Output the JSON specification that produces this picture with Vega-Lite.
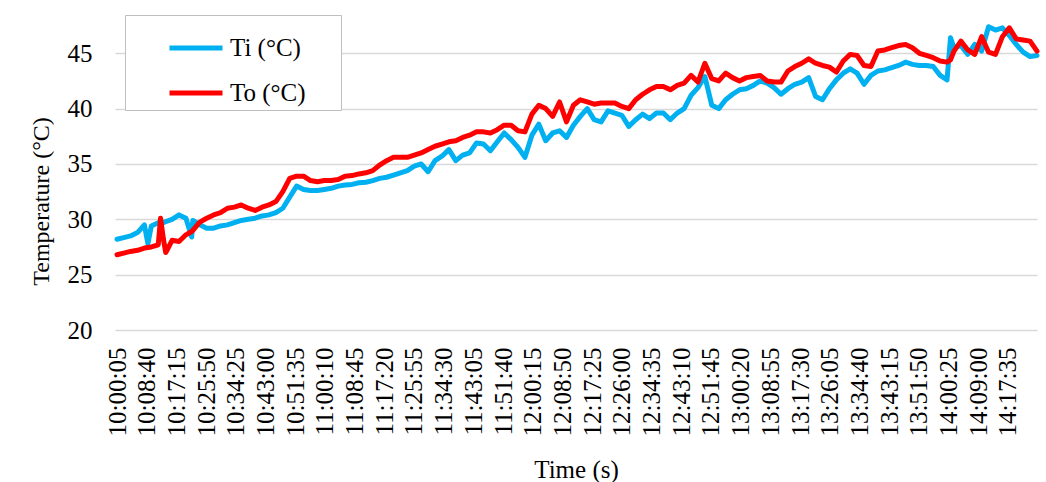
{
  "$schema": "https://vega.github.io/schema/vega-lite/v6.json",
  "width": 922,
  "height": 321,
  "autosize": {"type": "none"},
  "padding": {"left": 115, "top": 9, "right": 9, "bottom": 152},
  "background": "white",
  "config": {
    "font": "Liberation Serif",
    "view": {"stroke": null}
  },
  "data": {
    "format": {"parse": {"t": "date:'%H:%M:%S'"}},
    "values": [
      {"t":"10:00:05","Ti":28.2,"To":26.8},
      {"t":"10:02:00","Ti":28.35,"To":26.95},
      {"t":"10:04:00","Ti":28.5,"To":27.1},
      {"t":"10:06:00","Ti":28.8,"To":27.2},
      {"t":"10:08:00","Ti":29.5,"To":27.4},
      {"t":"10:09:00","Ti":27.8,"To":27.45},
      {"t":"10:10:00","Ti":29.4,"To":27.5},
      {"t":"10:12:00","Ti":29.7,"To":27.7},
      {"t":"10:12:40","Ti":29.6,"To":30.1},
      {"t":"10:13:30","Ti":29.7,"To":28.2},
      {"t":"10:14:10","Ti":29.8,"To":27.0},
      {"t":"10:16:00","Ti":30.0,"To":28.1},
      {"t":"10:18:00","Ti":30.4,"To":28.0},
      {"t":"10:20:00","Ti":30.1,"To":28.6},
      {"t":"10:21:40","Ti":28.4,"To":28.9},
      {"t":"10:22:00","Ti":29.9,"To":29.0},
      {"t":"10:24:00","Ti":29.5,"To":29.75},
      {"t":"10:26:00","Ti":29.2,"To":30.1},
      {"t":"10:28:00","Ti":29.2,"To":30.4},
      {"t":"10:30:00","Ti":29.4,"To":30.6},
      {"t":"10:32:00","Ti":29.5,"To":31.0},
      {"t":"10:34:00","Ti":29.7,"To":31.1},
      {"t":"10:36:00","Ti":29.9,"To":31.3},
      {"t":"10:38:00","Ti":30.0,"To":31.0},
      {"t":"10:40:00","Ti":30.1,"To":30.8},
      {"t":"10:42:00","Ti":30.3,"To":31.1},
      {"t":"10:44:00","Ti":30.4,"To":31.3},
      {"t":"10:46:00","Ti":30.6,"To":31.6},
      {"t":"10:48:00","Ti":31.0,"To":32.5},
      {"t":"10:50:00","Ti":32.0,"To":33.7},
      {"t":"10:52:00","Ti":33.0,"To":33.9},
      {"t":"10:54:00","Ti":32.7,"To":33.9},
      {"t":"10:56:00","Ti":32.6,"To":33.5},
      {"t":"10:58:00","Ti":32.6,"To":33.4},
      {"t":"11:00:00","Ti":32.7,"To":33.5},
      {"t":"11:02:00","Ti":32.8,"To":33.5},
      {"t":"11:04:00","Ti":33.0,"To":33.6},
      {"t":"11:06:00","Ti":33.1,"To":33.9},
      {"t":"11:08:00","Ti":33.15,"To":33.95},
      {"t":"11:10:00","Ti":33.3,"To":34.1},
      {"t":"11:12:00","Ti":33.35,"To":34.2},
      {"t":"11:14:00","Ti":33.5,"To":34.4},
      {"t":"11:16:00","Ti":33.7,"To":34.9},
      {"t":"11:18:00","Ti":33.8,"To":35.3},
      {"t":"11:20:00","Ti":34.0,"To":35.6},
      {"t":"11:22:00","Ti":34.2,"To":35.6},
      {"t":"11:24:00","Ti":34.4,"To":35.6},
      {"t":"11:26:00","Ti":34.8,"To":35.8},
      {"t":"11:28:00","Ti":35.0,"To":36.0},
      {"t":"11:30:00","Ti":34.3,"To":36.3},
      {"t":"11:32:00","Ti":35.3,"To":36.6},
      {"t":"11:34:00","Ti":35.7,"To":36.8},
      {"t":"11:36:00","Ti":36.3,"To":37.0},
      {"t":"11:38:00","Ti":35.3,"To":37.1},
      {"t":"11:40:00","Ti":35.8,"To":37.4},
      {"t":"11:42:00","Ti":36.0,"To":37.6},
      {"t":"11:44:00","Ti":36.9,"To":37.9},
      {"t":"11:46:00","Ti":36.8,"To":37.9},
      {"t":"11:48:00","Ti":36.2,"To":37.8},
      {"t":"11:50:00","Ti":37.0,"To":38.1},
      {"t":"11:52:00","Ti":37.8,"To":38.5},
      {"t":"11:54:00","Ti":37.2,"To":38.5},
      {"t":"11:56:00","Ti":36.5,"To":38.0},
      {"t":"11:58:00","Ti":35.6,"To":37.9},
      {"t":"12:00:00","Ti":37.6,"To":39.5},
      {"t":"12:02:00","Ti":38.6,"To":40.3},
      {"t":"12:04:00","Ti":37.1,"To":40.0},
      {"t":"12:06:00","Ti":37.8,"To":39.3},
      {"t":"12:08:00","Ti":38.0,"To":40.6},
      {"t":"12:10:00","Ti":37.4,"To":38.8},
      {"t":"12:12:00","Ti":38.5,"To":40.3},
      {"t":"12:14:00","Ti":39.3,"To":40.8},
      {"t":"12:16:00","Ti":40.0,"To":40.6},
      {"t":"12:18:00","Ti":39.0,"To":40.4},
      {"t":"12:20:00","Ti":38.8,"To":40.5},
      {"t":"12:22:00","Ti":39.8,"To":40.5},
      {"t":"12:24:00","Ti":39.6,"To":40.5},
      {"t":"12:26:00","Ti":39.4,"To":40.2},
      {"t":"12:28:00","Ti":38.4,"To":40.0},
      {"t":"12:30:00","Ti":39.0,"To":40.8},
      {"t":"12:32:00","Ti":39.5,"To":41.3},
      {"t":"12:34:00","Ti":39.1,"To":41.7},
      {"t":"12:36:00","Ti":39.6,"To":42.0},
      {"t":"12:38:00","Ti":39.6,"To":42.0},
      {"t":"12:40:00","Ti":39.0,"To":41.7},
      {"t":"12:42:00","Ti":39.6,"To":42.1},
      {"t":"12:44:00","Ti":40.0,"To":42.3},
      {"t":"12:46:00","Ti":41.2,"To":43.0},
      {"t":"12:48:00","Ti":41.9,"To":42.4},
      {"t":"12:50:00","Ti":42.9,"To":44.1},
      {"t":"12:52:00","Ti":40.3,"To":42.7},
      {"t":"12:54:00","Ti":40.0,"To":42.5},
      {"t":"12:56:00","Ti":40.8,"To":43.2},
      {"t":"12:58:00","Ti":41.3,"To":42.8},
      {"t":"13:00:00","Ti":41.7,"To":42.5},
      {"t":"13:02:00","Ti":41.8,"To":42.8},
      {"t":"13:04:00","Ti":42.1,"To":42.9},
      {"t":"13:06:00","Ti":42.5,"To":43.0},
      {"t":"13:08:00","Ti":42.3,"To":42.5},
      {"t":"13:10:00","Ti":41.9,"To":42.4},
      {"t":"13:12:00","Ti":41.3,"To":42.4},
      {"t":"13:14:00","Ti":41.8,"To":43.4},
      {"t":"13:16:00","Ti":42.2,"To":43.8},
      {"t":"13:18:00","Ti":42.4,"To":44.1},
      {"t":"13:20:00","Ti":42.8,"To":44.5},
      {"t":"13:22:00","Ti":41.1,"To":44.1},
      {"t":"13:24:00","Ti":40.8,"To":43.9},
      {"t":"13:26:00","Ti":41.8,"To":43.75},
      {"t":"13:28:00","Ti":42.6,"To":43.3},
      {"t":"13:30:00","Ti":43.2,"To":44.3},
      {"t":"13:32:00","Ti":43.6,"To":44.9},
      {"t":"13:34:00","Ti":43.2,"To":44.8},
      {"t":"13:36:00","Ti":42.2,"To":43.9},
      {"t":"13:38:00","Ti":43.0,"To":43.8},
      {"t":"13:40:00","Ti":43.4,"To":45.2},
      {"t":"13:42:00","Ti":43.5,"To":45.3},
      {"t":"13:44:00","Ti":43.7,"To":45.5},
      {"t":"13:46:00","Ti":43.9,"To":45.7},
      {"t":"13:48:00","Ti":44.2,"To":45.8},
      {"t":"13:50:00","Ti":44.0,"To":45.5},
      {"t":"13:52:00","Ti":43.9,"To":45.0},
      {"t":"13:54:00","Ti":43.9,"To":44.8},
      {"t":"13:56:00","Ti":43.8,"To":44.6},
      {"t":"13:58:00","Ti":43.0,"To":44.3},
      {"t":"14:00:00","Ti":42.6,"To":44.2},
      {"t":"14:01:00","Ti":46.4,"To":44.4},
      {"t":"14:02:00","Ti":45.5,"To":45.2},
      {"t":"14:04:00","Ti":45.7,"To":46.1},
      {"t":"14:06:00","Ti":44.9,"To":45.3},
      {"t":"14:08:00","Ti":45.8,"To":44.9},
      {"t":"14:10:00","Ti":45.2,"To":46.5},
      {"t":"14:12:00","Ti":47.4,"To":45.1},
      {"t":"14:14:00","Ti":47.1,"To":44.9},
      {"t":"14:16:00","Ti":47.3,"To":46.5},
      {"t":"14:18:00","Ti":46.6,"To":47.3},
      {"t":"14:20:00","Ti":45.8,"To":46.3},
      {"t":"14:22:00","Ti":45.1,"To":46.2},
      {"t":"14:24:00","Ti":44.7,"To":46.1},
      {"t":"14:26:00","Ti":44.8,"To":45.2}
    ]
  },
  "transform": [{"fold": ["Ti", "To"], "as": ["s", "v"]}],
  "mark": {"type": "line", "strokeWidth": 5, "strokeJoin": "round", "strokeCap": "round"},
  "encoding": {
    "x": {
      "field": "t",
      "type": "temporal",
      "scale": {
        "domain": [
          {"year": 1900, "month": 1, "date": 1, "hours": 9, "minutes": 59, "seconds": 30},
          {"year": 1900, "month": 1, "date": 1, "hours": 14, "minutes": 26, "seconds": 0}
        ]
      },
      "axis": {
        "title": "Time (s)",
        "format": "%H:%M:%S",
        "values": [
          {"year":1900,"month":1,"date":1,"hours":10,"minutes":0,"seconds":5},
          {"year":1900,"month":1,"date":1,"hours":10,"minutes":8,"seconds":40},
          {"year":1900,"month":1,"date":1,"hours":10,"minutes":17,"seconds":15},
          {"year":1900,"month":1,"date":1,"hours":10,"minutes":25,"seconds":50},
          {"year":1900,"month":1,"date":1,"hours":10,"minutes":34,"seconds":25},
          {"year":1900,"month":1,"date":1,"hours":10,"minutes":43,"seconds":0},
          {"year":1900,"month":1,"date":1,"hours":10,"minutes":51,"seconds":35},
          {"year":1900,"month":1,"date":1,"hours":11,"minutes":0,"seconds":10},
          {"year":1900,"month":1,"date":1,"hours":11,"minutes":8,"seconds":45},
          {"year":1900,"month":1,"date":1,"hours":11,"minutes":17,"seconds":20},
          {"year":1900,"month":1,"date":1,"hours":11,"minutes":25,"seconds":55},
          {"year":1900,"month":1,"date":1,"hours":11,"minutes":34,"seconds":30},
          {"year":1900,"month":1,"date":1,"hours":11,"minutes":43,"seconds":5},
          {"year":1900,"month":1,"date":1,"hours":11,"minutes":51,"seconds":40},
          {"year":1900,"month":1,"date":1,"hours":12,"minutes":0,"seconds":15},
          {"year":1900,"month":1,"date":1,"hours":12,"minutes":8,"seconds":50},
          {"year":1900,"month":1,"date":1,"hours":12,"minutes":17,"seconds":25},
          {"year":1900,"month":1,"date":1,"hours":12,"minutes":26,"seconds":0},
          {"year":1900,"month":1,"date":1,"hours":12,"minutes":34,"seconds":35},
          {"year":1900,"month":1,"date":1,"hours":12,"minutes":43,"seconds":10},
          {"year":1900,"month":1,"date":1,"hours":12,"minutes":51,"seconds":45},
          {"year":1900,"month":1,"date":1,"hours":13,"minutes":0,"seconds":20},
          {"year":1900,"month":1,"date":1,"hours":13,"minutes":8,"seconds":55},
          {"year":1900,"month":1,"date":1,"hours":13,"minutes":17,"seconds":30},
          {"year":1900,"month":1,"date":1,"hours":13,"minutes":26,"seconds":5},
          {"year":1900,"month":1,"date":1,"hours":13,"minutes":34,"seconds":40},
          {"year":1900,"month":1,"date":1,"hours":13,"minutes":43,"seconds":15},
          {"year":1900,"month":1,"date":1,"hours":13,"minutes":51,"seconds":50},
          {"year":1900,"month":1,"date":1,"hours":14,"minutes":0,"seconds":25},
          {"year":1900,"month":1,"date":1,"hours":14,"minutes":9,"seconds":0},
          {"year":1900,"month":1,"date":1,"hours":14,"minutes":17,"seconds":35}
        ],
        "labelAngle": -90,
        "labelAlign": "right",
        "labelBaseline": "middle",
        "labelPadding": 17,
        "labelFontSize": 25,
        "labelColor": "#000000",
        "labelOverlap": false,
        "labelFlush": false,
        "ticks": false,
        "domain": false,
        "grid": false,
        "titleFontSize": 25,
        "titleFontWeight": "normal",
        "titleColor": "#000000",
        "titleBaseline": "alphabetic",
        "titleY": 147
      }
    },
    "y": {
      "field": "v",
      "type": "quantitative",
      "scale": {"domain": [20, 49], "nice": false, "zero": false},
      "axis": {
        "title": "Temperature (°C)",
        "values": [20, 25, 30, 35, 40, 45],
        "labelFontSize": 25,
        "labelColor": "#000000",
        "labelPadding": 23,
        "ticks": false,
        "domain": false,
        "grid": true,
        "gridColor": "#d9d9d9",
        "gridWidth": 1.3,
        "titleFontSize": 24,
        "titleFontWeight": "normal",
        "titleColor": "#000000",
        "titleAngle": -90,
        "titleAlign": "center",
        "titleBaseline": "alphabetic",
        "titleX": -67,
        "titleY": 192
      }
    },
    "color": {
      "field": "s",
      "type": "nominal",
      "scale": {"domain": ["Ti", "To"], "range": ["#00B0F0", "#FF0000"]},
      "legend": {
        "title": null,
        "orient": "none",
        "legendX": 10,
        "legendY": 6,
        "direction": "vertical",
        "strokeColor": "#bfbfbf",
        "fillColor": "#ffffff",
        "padding": 4,
        "symbolType": "stroke",
        "symbolSize": 2809,
        "symbolStrokeWidth": 5,
        "symbolOffset": 38,
        "labelOffset": 5,
        "labelFontSize": 25,
        "labelColor": "#000000",
        "labelExpr": "datum.label + ' (°C)\u00a0\u00a0\u00a0\u00a0\u00a0\u200b'",
        "labelLimit": 300,
        "rowPadding": 3
      }
    }
  }
}
